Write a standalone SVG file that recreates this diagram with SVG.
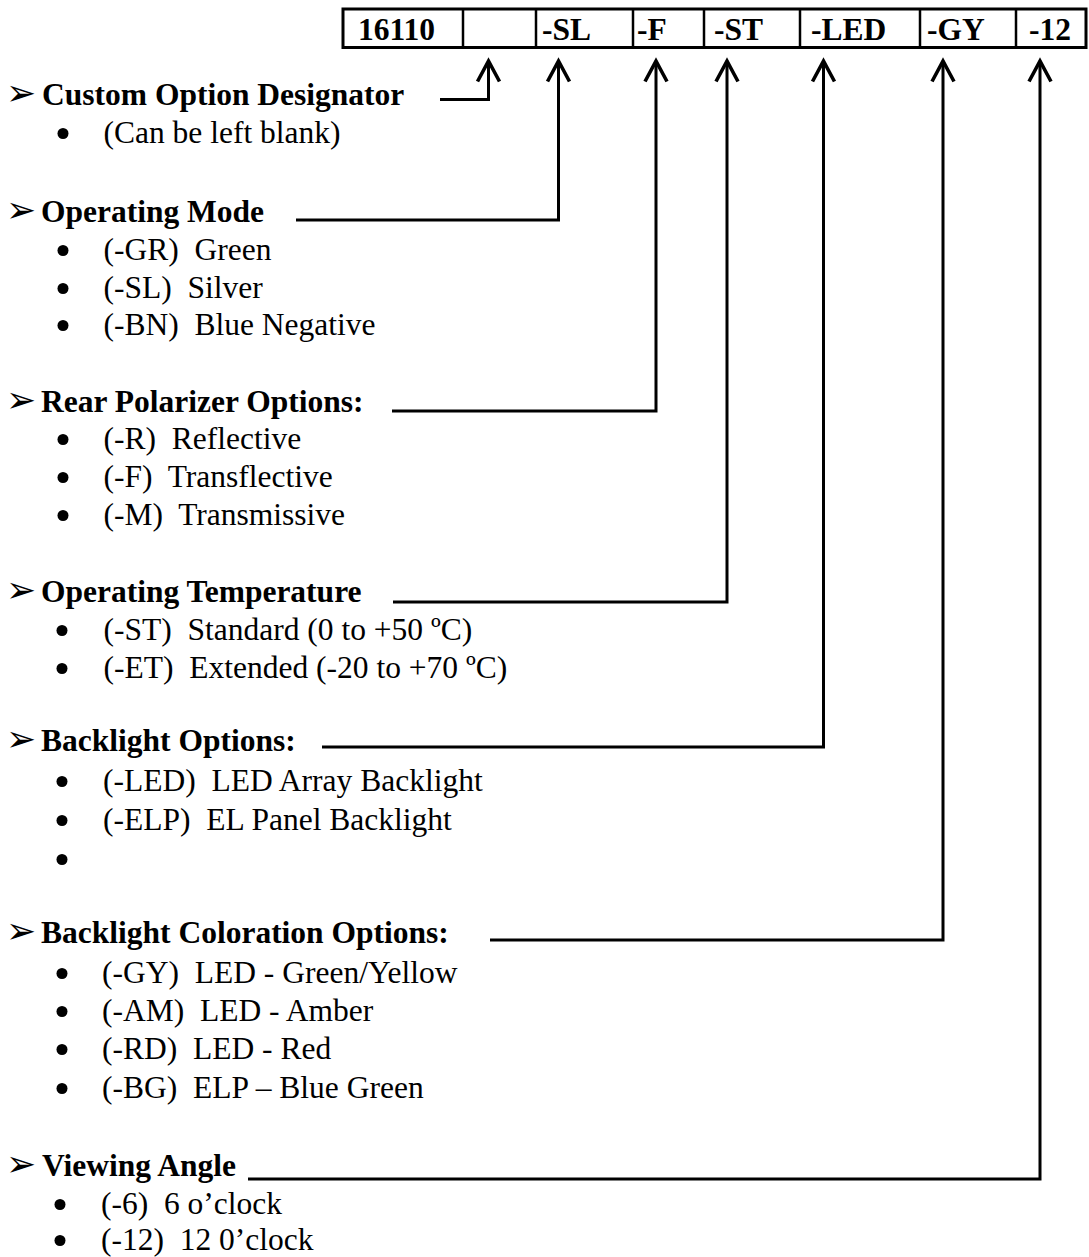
<svg xmlns="http://www.w3.org/2000/svg" width="1089" height="1257" viewBox="0 0 1089 1257">
<style>
.bg{fill:#fff}
.cell{fill:none;stroke:#000;stroke-width:3}
.sep{stroke:#000;stroke-width:2.5}
.code{font-family:"Liberation Serif","Times New Roman",serif;font-weight:bold;font-size:31.5px;fill:#000}
.head{font-family:"Liberation Serif","Times New Roman",serif;font-weight:bold;font-size:31.5px;fill:#000}
.item{font-family:"Liberation Serif","Times New Roman",serif;font-size:31.5px;fill:#000;white-space:pre}
.dot{fill:#000}
.tri{font-family:"DejaVu Sans",sans-serif;font-size:36px;fill:#000}
.conn{fill:none;stroke:#000;stroke-width:3;stroke-linejoin:miter;marker-end:url(#chev)}
</style>
<defs>
<marker id="chev" markerUnits="userSpaceOnUse" viewBox="-30 -20 40 40" markerWidth="40" markerHeight="40" refX="0" refY="0" orient="auto" overflow="visible">
<path d="M-20.5,-11 L0,0 L-20.5,11" fill="none" stroke="#000" stroke-width="3.6" stroke-linejoin="miter"/>
</marker>
</defs>
<rect class="bg" x="0" y="0" width="1089" height="1257"/>

<g id="part-number">
<rect class="cell" x="343" y="9" width="743" height="38.5"/>
<line class="sep" x1="463" y1="9" x2="463" y2="47.5"/>
<line class="sep" x1="536" y1="9" x2="536" y2="47.5"/>
<line class="sep" x1="633" y1="9" x2="633" y2="47.5"/>
<line class="sep" x1="704" y1="9" x2="704" y2="47.5"/>
<line class="sep" x1="800" y1="9" x2="800" y2="47.5"/>
<line class="sep" x1="920" y1="9" x2="920" y2="47.5"/>
<line class="sep" x1="1016" y1="9" x2="1016" y2="47.5"/>
<text class="code" x="358" y="39.5">16110</text>
<text class="code" x="542" y="39.5">-SL</text>
<text class="code" x="637" y="39.5">-F</text>
<text class="code" x="714" y="39.5">-ST</text>
<text class="code" x="811" y="39.5">-LED</text>
<text class="code" x="927" y="39.5">-GY</text>
<text class="code" x="1029" y="39.5">-12</text>
</g>

<g id="connectors">
<path class="conn" d="M440,99.5 H488.5 V61"/>
<path class="conn" d="M296,220 H558.5 V61"/>
<path class="conn" d="M392,411 H656 V61"/>
<path class="conn" d="M393,602 H727 V61"/>
<path class="conn" d="M322,747 H823.5 V61"/>
<path class="conn" d="M490,940 H943 V61"/>
<path class="conn" d="M248,1179 H1040 V61"/>
</g>

<g id="custom-option">
<text class="tri" x="6" y="105">➢</text>
<text class="head" x="42" y="105">Custom Option Designator</text>
<circle class="dot" cx="63" cy="133.5" r="5.5"/>
<text class="item" x="103.5" y="143">(Can be left blank)</text>
</g>

<g id="operating-mode">
<text class="tri" x="6" y="222">➢</text>
<text class="head" x="41" y="222">Operating Mode</text>
<circle class="dot" cx="63" cy="250.5" r="5.5"/>
<text class="item" x="103.5" y="260">(-GR)&#160; Green</text>
<circle class="dot" cx="63" cy="288.5" r="5.5"/>
<text class="item" x="103.5" y="298">(-SL)&#160; Silver</text>
<circle class="dot" cx="63" cy="325.5" r="5.5"/>
<text class="item" x="103.5" y="335">(-BN)&#160; Blue Negative</text>
</g>

<g id="rear-polarizer">
<text class="tri" x="6" y="412">➢</text>
<text class="head" x="41" y="412">Rear Polarizer Options:</text>
<circle class="dot" cx="63" cy="439.5" r="5.5"/>
<text class="item" x="103.5" y="449">(-R)&#160; Reflective</text>
<circle class="dot" cx="63" cy="477.5" r="5.5"/>
<text class="item" x="103.5" y="487">(-F)&#160; Transflective</text>
<circle class="dot" cx="63" cy="515.5" r="5.5"/>
<text class="item" x="103.5" y="525">(-M)&#160; Transmissive</text>
</g>

<g id="operating-temperature">
<text class="tri" x="6" y="602">➢</text>
<text class="head" x="41" y="602">Operating Temperature</text>
<circle class="dot" cx="62" cy="630.5" r="5.5"/>
<text class="item" x="103.5" y="640">(-ST)&#160; Standard (0 to +50 ºC)</text>
<circle class="dot" cx="62" cy="668.5" r="5.5"/>
<text class="item" x="103.5" y="678">(-ET)&#160; Extended (-20 to +70 ºC)</text>
</g>

<g id="backlight-options">
<text class="tri" x="6" y="751">➢</text>
<text class="head" x="41" y="751">Backlight Options:</text>
<circle class="dot" cx="62" cy="781.5" r="5.5"/>
<text class="item" x="103" y="791">(-LED)&#160; LED Array Backlight</text>
<circle class="dot" cx="62" cy="820.5" r="5.5"/>
<text class="item" x="103" y="830">(-ELP)&#160; EL Panel Backlight</text>
<circle class="dot" cx="62" cy="859.5" r="5.5"/>
</g>

<g id="backlight-coloration">
<text class="tri" x="6" y="943">➢</text>
<text class="head" x="41" y="943">Backlight Coloration Options:</text>
<circle class="dot" cx="62" cy="973.5" r="5.5"/>
<text class="item" x="102" y="983">(-GY)&#160; LED - Green/Yellow</text>
<circle class="dot" cx="62" cy="1011.5" r="5.5"/>
<text class="item" x="102" y="1021">(-AM)&#160; LED - Amber</text>
<circle class="dot" cx="62" cy="1049.5" r="5.5"/>
<text class="item" x="102" y="1059">(-RD)&#160; LED - Red</text>
<circle class="dot" cx="62" cy="1088.5" r="5.5"/>
<text class="item" x="102" y="1098">(-BG)&#160; ELP – Blue Green</text>
</g>

<g id="viewing-angle">
<text class="tri" x="6" y="1176">➢</text>
<text class="head" x="42" y="1176">Viewing Angle</text>
<circle class="dot" cx="60" cy="1204.5" r="5.5"/>
<text class="item" x="101" y="1214">(-6)&#160; 6 o’clock</text>
<circle class="dot" cx="60" cy="1240.5" r="5.5"/>
<text class="item" x="101" y="1250">(-12)&#160; 12 0’clock</text>
</g>
</svg>
